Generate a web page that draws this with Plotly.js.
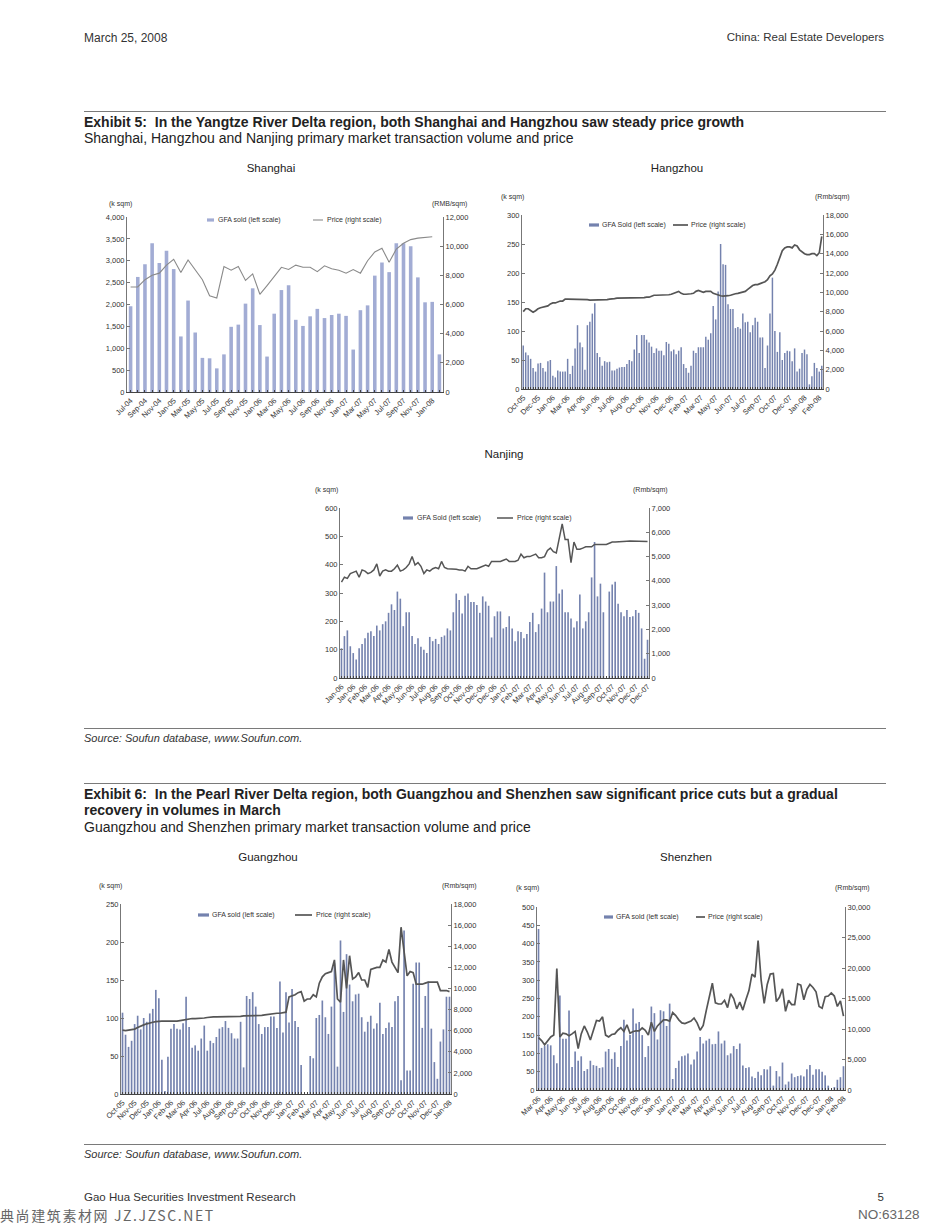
<!DOCTYPE html>
<html><head><meta charset="utf-8">
<script src="https://cdn.plot.ly/plotly-3.0.1.min.js"></script>
<style>
body{margin:0;background:#fff;width:950px;height:1229px;position:relative;overflow:hidden;font-family:"Liberation Sans",Arial,sans-serif;color:#222}
.t{position:absolute;white-space:nowrap;line-height:1}
.rule{position:absolute;left:84px;width:802px;height:0;border-top:1.6px solid #7a7a7a}
.chart{position:absolute}
.ct{position:absolute;font-size:11.5px;transform:translateX(-50%);white-space:nowrap;line-height:1}
.h{font-size:14px;font-weight:bold}
.s{font-size:14px}
</style></head><body>

<div class="t" style="left:84px;top:32px;font-size:12px;color:#333">March 25, 2008</div>
<div class="t" style="right:66px;top:32px;font-size:11.5px;color:#333">China: Real Estate Developers</div>

<div class="rule" style="top:111px"></div>
<div class="t h" style="left:84px;top:115px">Exhibit 5:&nbsp; In the Yangtze River Delta region, both Shanghai and Hangzhou saw steady price growth</div>
<div class="t s" style="left:84px;top:131px">Shanghai, Hangzhou and Nanjing primary market transaction volume and price</div>

<div class="ct" style="left:271px;top:163px">Shanghai</div>
<div class="ct" style="left:677px;top:163px">Hangzhou</div>
<div class="ct" style="left:504px;top:449px">Nanjing</div>

<div class="rule" style="top:728px"></div>
<div class="t" style="left:84px;top:733px;font-size:11px;font-style:italic;color:#333">Source: Soufun database, www.Soufun.com.</div>

<div class="rule" style="top:783px"></div>
<div class="t h" style="left:84px;top:787px">Exhibit 6:&nbsp; In the Pearl River Delta region, both Guangzhou and Shenzhen saw significant price cuts but a gradual</div>
<div class="t h" style="left:84px;top:803px">recovery in volumes in March</div>
<div class="t s" style="left:84px;top:820px">Guangzhou and Shenzhen primary market transaction volume and price</div>

<div class="ct" style="left:268px;top:852px">Guangzhou</div>
<div class="ct" style="left:686px;top:852px">Shenzhen</div>

<div class="rule" style="top:1144px"></div>
<div class="t" style="left:84px;top:1149px;font-size:11px;font-style:italic;color:#333">Source: Soufun database, www.Soufun.com.</div>

<div class="t" style="left:84px;top:1192px;font-size:11.5px;color:#333">Gao Hua Securities Investment Research</div>
<div class="t" style="right:66px;top:1192px;font-size:11.5px;color:#333">5</div>
<div class="t" style="left:0px;top:1208px;font-size:14px;letter-spacing:1.6px;color:#666;font-family:'Noto Sans CJK SC',sans-serif">典尚建筑素材网 JZ.JZSC.NET</div>
<div class="t" style="left:858px;top:1208px;font-size:13.5px;color:#666">NO:63128</div>

<div id="sh" class="chart"></div>
<div id="hz" class="chart"></div>
<div id="nj" class="chart"></div>
<div id="gz" class="chart"></div>
<div id="sz" class="chart"></div>

<script>
// ---------------- DATA ----------------
// Shanghai (monthly)
const shMonths = ['Jul-04','Aug-04','Sep-04','Oct-04','Nov-04','Dec-04','Jan-05','Feb-05','Mar-05','Apr-05','May-05','Jun-05','Jul-05','Aug-05','Sep-05','Oct-05','Nov-05','Dec-05','Jan-06','Feb-06','Mar-06','Apr-06','May-06','Jun-06','Jul-06','Aug-06','Sep-06','Oct-06','Nov-06','Dec-06','Jan-07','Feb-07','Mar-07','Apr-07','May-07','Jun-07','Jul-07','Aug-07','Sep-07','Oct-07','Nov-07','Dec-07','Jan-08','Feb-08'];
const shGFA = [1960,2630,2920,3400,2950,3230,2810,1270,2090,1360,780,770,540,860,1490,1540,2020,2370,1530,810,1790,2330,2440,1650,1510,1730,1900,1690,1760,1790,1740,970,1870,1980,2660,2960,2740,3400,3400,3330,2620,2050,2060,860];
const shPrice = [7200,7200,7700,8000,8150,8700,9100,8200,9050,8400,7700,6600,6450,8600,8350,8600,7650,8100,6700,7300,7900,8550,8400,8700,8550,8550,8250,8650,8450,8350,8150,8400,8150,9000,9600,9850,8900,9800,10200,10450,10550,10600,10650,null];
const shTicks = ['Jul-04','Sep-04','Nov-04','Jan-05','Mar-05','May-05','Jul-05','Sep-05','Nov-05','Jan-06','Mar-06','May-06','Jul-06','Sep-06','Nov-06','Jan-07','Mar-07','May-07','Jul-07','Sep-07','Nov-07','Jan-08'];

// Hangzhou (weekly)
const hzGFA = [75,63,58,52,36,30,44,45,36,30, 48,50,23,20,32,30,30,30,52,26, 40,70,110,80,72,33,110,116,130,148, 62,55,40,48,46,47,32,32,35,37, 38,38,43,50,48,68,93,62,93,93, 85,80,73,62,70,66,66,58,81,78, 65,68,60,66,72,43,36,28,40,66, 62,72,72,72,90,85,96,143,120,168, 250,215,214,146,138,138,105,107,104,130, 115,116,98,110,123,116,89,89,36,75, 130,192,100,64,98,50,62,66,65,48, 70,30,35,62,68,60,8,22,45,36, 30,40];
const hzPrice = [8000,8300,8300,8100,7950,8100,8300,8400,8450,8500,8600, 8800,8900,8900,9000,9100,9100,9300,9300, 9300,9300,9250,9250,9250,9250,9300,9250,9200,9200,9200,9200, 9200,9200,9250,9250,9300,9300,9350,9400,9400,9400,9400,9400,9400,9400,9400,9400,9400,9450,9450,9500, 9500,9600,9700,9700,9700,9700,9750,9750,9750,9800, 9900,10000,10100,9900,9800,9800,9800,9850,9900,10100, 10200,10100,10000,10100,10100,10100,9900,9800,9700,9650, 9600,9600,9650,9700,9800,9850,9900,9950,10000,10100, 10300,10500,10700,10800,10800,10900,11000,11100,11300,11700, 11900,12300,12900,13600,14300,14600,14700,14700,14600,14900, 14800,14400,14200,14000,13900,13900,14000,14000,13800,14100,15800];
const hzTicks = ['Oct-05','Dec-05','Jan-06','Mar-06','Apr-06','Jun-06','Jul-06','Aug-06','Oct-06','Nov-06','Dec-06','Feb-07','Mar-07','May-07','Jun-07','Jul-07','Sep-07','Oct-07','Dec-07','Jan-08','Feb-08'];

// Nanjing (weekly)
const njGFA = [105,148,168,112,88,65,105,120,140,160, 165,148,185,168,190,200,230,260,240,305, 280,183,232,232,148,120,140,110,100,88, 145,130,138,120,145,150,175,168,232,298, 275,228,290,298,268,268,258,230,288,270, 255,143,218,235,235,175,180,218,175,130, 165,162,140,155,198,230,162,190,245,372, 232,270,270,395,298,312,232,232,210,178, 200,295,175,200,232,355,480,288,333,232, 0,305,330,340,262,232,218,240,215,218, 240,230,175,68,135];
const njPrice = [3950,4150,4100,4300,4350,4400,4150,4450,4400,4300, 4350,4450,4700,4200,4400,4450,4400,4400,4500,4650, 4400,4450,4550,4700,5000,4650,4750,4600,4300,4450, 4400,4500,4550,4500,4800,4550,4500,4500,4500,4480, 4450,4450,4400,4600,4500,4500,4500,4550,4600,4650, 4600,4800,4800,4800,4800,4850,4900,4800,4800,4800, 4850,5100,4950,5000,5000,5050,5100,4950,4950,5000, 5250,5350,5200,5150,5700,6350,5700,5700,4750,5600, 5300,5300,5350,5400,5400,5400,5500,5500,5500,5500, 5500,5550,5600,5600,5600,5600,5620,5630,5640,5640, 5630,5630,5630,5620,5620];
const njTicks = ['Jan-06','Jan-06','Feb-06','Mar-06','Apr-06','May-06','Jun-06','Jul-06','Aug-06','Sep-06','Oct-06','Nov-06','Dec-06','Dec-06','Jan-07','Feb-07','Mar-07','Apr-07','May-07','Jun-07','Jul-07','Aug-07','Sep-07','Oct-07','Nov-07','Dec-07','Dec-07'];

// Guangzhou (weekly)
const gzGFA = [107,78,62,70,92,103,85,100,95,106, 112,137,126,45,4,49,86,92,86,85, 93,128,88,61,64,57,73,90,57,70, 67,75,86,88,96,87,80,73,73,95, 35,129,125,134,115,92,79,88,88,102, 102,87,148,81,134,94,138,96,88,38, 0,0,50,47,100,104,123,101,79,115, 172,36,202,108,184,144,122,131,132,101, 82,95,103,86,93,120,79,87,94,88, 122,129,18,215,31,31,145,173,173,87, 129,148,86,42,20,69,85,128,128];
const gzPrice = [6050,6000,6050,6100,6150,6300,6450,6550,6650,6750, 6800,6850,6900,6900,6900,6900,6850,6850,6900,6950, 7000,7100,7150,7150,7150,7150,7200,7200,7250,7300, 7300,7300,7300,7300,7350,7350,7350,7350,7350,7350, 7400,7400,7400,7400,7450,7450,7450,7500,7550,7550, 7600,7650,7650,7700,7750,9200,9300,9400,9600,9700, 8800,9000,9000,9400,9200,10500,11100,11400,11500,11600, 12700,9000,8700,12700,10000,13100,10900,11100,11500,10800, 10800,10100,11800,11900,12000,12000,12700,12500,13700,12500, 12000,11500,15800,13200,11200,11600,11500,10400,10400,10400, 10500,10600,10600,10600,10600,9800,9800,9800,9700];
const gzTicks = ['Oct-05','Nov-05','Dec-05','Jan-06','Feb-06','Mar-06','Apr-06','Jul-06','Aug-06','Sep-06','Oct-06','Oct-06','Nov-06','Dec-06','Jan-07','Feb-07','Mar-07','Apr-07','May-07','Jun-07','Jul-07','Aug-07','Sep-07','Oct-07','Oct-07','Nov-07','Dec-07','Jan-08'];

// Shenzhen (weekly)
const szGFA = [440,115,120,125,122,95,73,258,140,140, 217,63,105,80,92,52,57,80,68,66, 60,62,105,112,85,103,63,120,192,135, 150,223,182,186,150,90,120,228,210,138, 218,215,175,236,30,60,80,92,94,100, 70,83,105,145,127,135,140,125,126,160, 127,135,95,100,120,112,127,67,60,62, 37,33,50,40,57,56,65,12,52,37, 75,15,23,45,35,38,40,37,57,68, 42,57,57,50,40,12,0,8,28,35, 65];
const szPrice = [8600,8100,7400,8000,8700,9000,19900,8700,9300,9200, 8900,9200,9600,6800,9200,10500,9500,8200,9700,11400, 11300,12000,9000,8700,9100,9200,9800,10200,9600,10700, 9300,9600,9700,9700,10200,9800,9000,11100,9600,10500, 11000,11500,11500,11300,12700,12200,11500,11000,10900,11100, 11300,11800,11000,9800,10600,13000,15200,17500,14300,14100, 14100,14700,13500,15800,15000,13300,14400,13100,14800,16300, 19000,18500,24500,18000,14200,17300,19000,19100,14500,15200, 16600,12900,14700,14000,14000,17400,17200,14800,16500,17300, 16800,16100,13700,13400,15300,15400,15900,15400,13700,14600, 12100];
const szTicks = ['Mar-06','Apr-06','May-06','Jun-06','Jul-06','Aug-06','Sep-06','Oct-06','Nov-06','Dec-06','Jan-07','Jan-07','Feb-07','Mar-07','Apr-07','May-07','Jun-07','Jul-07','Aug-07','Sep-07','Oct-07','Nov-07','Dec-07','Dec-07','Jan-08','Feb-08'];

// ---------------- DRAW ----------------
const FONT = '"Liberation Sans", Arial, sans-serif';

function mk(id, cfg) {
  const box = cfg.box;
  const m = {l:60, r:60, t:40, b:60};
  const W = box.R - box.L, H = box.B - box.T;
  const div = document.getElementById(id);
  div.style.left = (box.L - m.l) + 'px';
  div.style.top = (box.T - m.t) + 'px';
  const px = x => (x - box.L) / W;
  const py = y => (box.B - y) / H;

  const n = cfg.gfa.length;
  const xs = cfg.gfa.map((_, i) => i);
  const tickvals = cfg.labels ? cfg.ticks.map(t => cfg.labels.indexOf(t)) : cfg.ticks.map((_, i) => i * cfg.step);
  const xaxis = {type:'linear', range:[-0.5, n - 0.5], tickvals, ticktext: cfg.ticks,
    tickangle:-45, tickfont:{size:7.5, color:'#333', family:FONT},
    showline:true, linecolor:'#444', linewidth:1.3, ticks:'inside', ticklen:2, tickcolor:'#444',
    minor:{dtick:1, tick0:0, ticks:'inside', ticklen:2, tickcolor:'#444', showgrid:false},
    showgrid:false, zeroline:false, fixedrange:true};

  const yCommon = {showline:true, linecolor:'#777', linewidth:1, ticks:'inside', ticklen:3, tickcolor:'#777',
    tickfont:{size:7.5, color:'#333', family:FONT}, showgrid:false, zeroline:false, tickformat:',d', fixedrange:true};

  const traces = [
    {type:'bar', x: xs, y: cfg.gfa, name: cfg.barName, marker:{color: cfg.barColor, line:{width:0}}, yaxis:'y', showlegend:false},
    {type:'scatter', mode:'lines', x: xs, y: cfg.price, name: cfg.lineName, line:{color: cfg.lineColor, width: cfg.lineWidth}, yaxis:'y2', showlegend:false}
  ];

  const lg = cfg.legend;
  const shapes = [
    {type:'rect', xref:'paper', yref:'paper', x0:px(lg.bar[0]), x1:px(lg.bar[1]), y0:py(lg.y+1.6), y1:py(lg.y-1.6), fillcolor:cfg.barColor, line:{width:0}},
    {type:'line', xref:'paper', yref:'paper', x0:px(lg.line[0]), x1:px(lg.line[1]), y0:py(lg.y), y1:py(lg.y), line:{color:cfg.lineColor, width:cfg.lineWidth}}
  ];
  const af = {size:7, color:'#333', family:FONT};
  const annotations = [
    {xref:'paper', yref:'paper', x:px(lg.barText), y:py(lg.y), xanchor:'left', yanchor:'middle', text:cfg.barName, showarrow:false, font:af},
    {xref:'paper', yref:'paper', x:px(lg.lineText), y:py(lg.y), xanchor:'left', yanchor:'middle', text:cfg.lineName, showarrow:false, font:af},
    {xref:'paper', yref:'paper', x:px(cfg.unitL[0]), y:py(cfg.unitL[1]), xanchor:'center', yanchor:'middle', text:'(k sqm)', showarrow:false, font:af},
    {xref:'paper', yref:'paper', x:px(cfg.unitR[0]), y:py(cfg.unitR[1]), xanchor:'center', yanchor:'middle', text:cfg.unitRText, showarrow:false, font:af}
  ];

  const layout = {
    width: W + m.l + m.r, height: H + m.t + m.b,
    margin:{l:m.l, r:m.r, t:m.t, b:m.b, pad:0},
    paper_bgcolor:'rgba(0,0,0,0)', plot_bgcolor:'rgba(0,0,0,0)',
    font:{family:FONT},
    showlegend:false, bargap: cfg.bargap,
    xaxis: xaxis,
    yaxis: Object.assign({range:[0, cfg.yMax], dtick: cfg.yDtick}, yCommon),
    yaxis2: Object.assign({range:[0, cfg.y2Max], dtick: cfg.y2Dtick, overlaying:'y', side:'right'}, yCommon),
    shapes, annotations
  };
  Plotly.newPlot(div, traces, layout, {staticPlot:true, displayModeBar:false});
}

mk('sh', {box:{L:127, R:443, T:217, B:392}, labels: shMonths, ticks: shTicks,
  gfa: shGFA, price: shPrice, barName:'GFA sold (left scale)', lineName:'Price (right scale)',
  barColor:'#a2acd4', lineColor:'#8a8a8a', lineWidth:1.1, bargap:0.5,
  yMax:4000, yDtick:500, y2Max:12000, y2Dtick:2000,
  legend:{y:220, bar:[207,214], barText:216, line:[313,323], lineText:325},
  unitL:[120,204], unitR:[450,204], unitRText:'(RMB/sqm)'});

mk('hz', {box:{L:522, R:823, T:215, B:389}, ticks: hzTicks, step:6,
  gfa: hzGFA, price: hzPrice, barName:'GFA Sold (left scale)', lineName:'Price (right scale)',
  barColor:'#7482ae', lineColor:'#555555', lineWidth:1.7, bargap:0.4,
  yMax:300, yDtick:50, y2Max:18000, y2Dtick:2000,
  legend:{y:225, bar:[589,599], barText:600, line:[673,688], lineText:689},
  unitL:[512,197], unitR:[832,197], unitRText:'(Rmb/sqm)'});

mk('nj', {box:{L:340, R:649, T:508, B:678}, ticks: njTicks, step:4,
  gfa: njGFA, price: njPrice, barName:'GFA Sold (left scale)', lineName:'Price (right scale)',
  barColor:'#7482ae', lineColor:'#555555', lineWidth:1.5, bargap:0.45,
  yMax:600, yDtick:100, y2Max:7000, y2Dtick:1000,
  legend:{y:518, bar:[403,413], barText:415, line:[497,513], lineText:515},
  unitL:[326,490], unitR:[650,490], unitRText:'(Rmb/sqm)'});

mk('gz', {box:{L:121, R:451, T:904, B:1094}, ticks: gzTicks, step:4,
  gfa: gzGFA, price: gzPrice, barName:'GFA sold (left scale)', lineName:'Price (right scale)',
  barColor:'#7482ae', lineColor:'#555555', lineWidth:1.7, bargap:0.45,
  yMax:250, yDtick:50, y2Max:18000, y2Dtick:2000,
  legend:{y:915, bar:[198,209], barText:210, line:[295,312], lineText:314},
  unitL:[110,886], unitR:[459,886], unitRText:'(Rmb/sqm)'});

mk('sz', {box:{L:537, R:845, T:907, B:1090}, ticks: szTicks, step:4,
  gfa: szGFA, price: szPrice, barName:'GFA sold (left scale)', lineName:'Price (right scale)',
  barColor:'#7482ae', lineColor:'#555555', lineWidth:1.7, bargap:0.45,
  yMax:500, yDtick:50, y2Max:30000, y2Dtick:5000,
  legend:{y:917, bar:[604,613], barText:614, line:[696,705], lineText:706},
  unitL:[527,888], unitR:[852,888], unitRText:'(Rmb/sqm)'});
</script>
</body></html>
